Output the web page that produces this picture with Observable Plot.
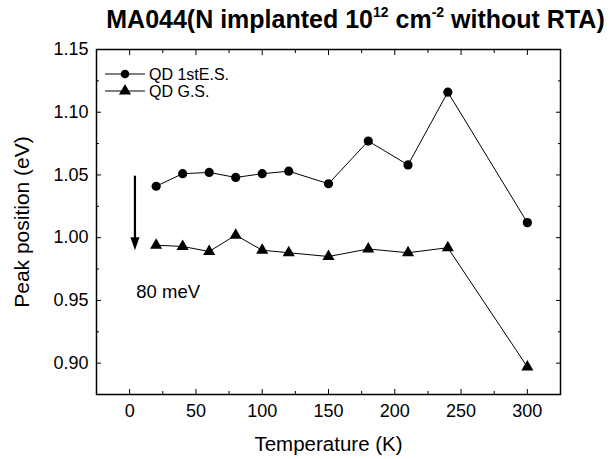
<!DOCTYPE html>
<html>
<head>
<meta charset="utf-8">
<script src="https://cdn.jsdelivr.net/npm/d3@7"></script>
<script src="https://cdn.jsdelivr.net/npm/@observablehq/plot@0.6"></script>
<style>
  body { margin: 0; background: #fff; }
  #wrap { position: relative; width: 614px; height: 459px; font-family: "Liberation Sans", Arial, sans-serif; }
  #title { position: absolute; left: 0; width: 711px; top: 4px; line-height: 30px; text-align: center; font-weight: bold; font-size: 25px; white-space: nowrap; letter-spacing: 0px; }
  #title sup { font-size: 14px; vertical-align: 0; position: relative; top: -11px; }
  #legend { position: absolute; left: 0; top: 0; }
</style>
</head>
<body>
<div id="wrap">
  <div id="title">MA044(N implanted 10<sup>12</sup> cm<sup>-2</sup> without RTA)</div>
  <div id="chart"></div>
</div>
<script>
const temperature = [20, 40, 60, 80, 100, 120, 150, 180, 210, 240, 300];
const excited = [1.041, 1.051, 1.052, 1.048, 1.051, 1.053, 1.043, 1.077, 1.058, 1.116, 1.012];
const ground  = [0.994, 0.993, 0.989, 1.002, 0.990, 0.988, 0.985, 0.991, 0.988, 0.992, 0.897];
const seriesNames = ["QD 1stE.S.", "QD G.S."];
const xTicks = [0, 50, 100, 150, 200, 250, 300];
const xMinor = [-25, 25, 75, 125, 175, 225, 275, 325];
const yTicks = [0.90, 0.95, 1.00, 1.05, 1.10, 1.15];
const yMinor = [0.875, 0.925, 0.975, 1.025, 1.075, 1.125];
const arrowT = [4];
const arrowFrom = [1.049];
const arrowTo = [0.990];
const annotation = ["80 meV"];
const annotationT = [5];
const annotationY = [0.957];

const es = temperature.map((t, i) => ({t, v: excited[i]}));
const gs = temperature.map((t, i) => ({t, v: ground[i]}));
const arrow = arrowT.map((t, i) => ({t, y1: arrowFrom[i], y2: arrowTo[i]}));

const headDown = { draw(ctx) { ctx.moveTo(0, 0); ctx.lineTo(-4.5, -13); ctx.lineTo(4.5, -13); ctx.closePath(); } };

const chart = Plot.plot({
  width: 614, height: 459,
  marginLeft: 96, marginRight: 54, marginTop: 49, marginBottom: 65,
  style: { fontFamily: "'Liberation Sans', Arial, sans-serif", fontSize: "18px", color: "#000", background: "#fff" },
  x: { domain: [-25, 325] },
  y: { domain: [0.875, 1.15] },
  marks: [
    Plot.axisX({ ticks: xTicks, tickSize: -5, tickPadding: 15, tickFormat: d3.format("d"), label: null, fontSize: 18 }),
    Plot.axisX({ ticks: xMinor, tickSize: -3, tickFormat: () => "", label: null }),
    Plot.axisX({ anchor: "top", ticks: xTicks, tickSize: -5, tickFormat: () => "", label: null }),
    Plot.axisX({ anchor: "top", ticks: xMinor, tickSize: -3, tickFormat: () => "", label: null }),
    Plot.axisY({ ticks: yTicks, tickSize: -5, tickPadding: 13, tickFormat: d3.format(".2f"), label: null, fontSize: 18 }),
    Plot.axisY({ ticks: yMinor, tickSize: -3, tickFormat: () => "", label: null }),
    Plot.axisY({ anchor: "right", ticks: yTicks, tickSize: -5, tickFormat: () => "", label: null }),
    Plot.axisY({ anchor: "right", ticks: yMinor, tickSize: -3, tickFormat: () => "", label: null }),
    Plot.frame({ stroke: "#000", strokeWidth: 1.5 }),
    Plot.line(es, { x: "t", y: "v", stroke: "#000", strokeWidth: 1 }),
    Plot.line(gs, { x: "t", y: "v", stroke: "#000", strokeWidth: 1 }),
    Plot.dot(es, { x: "t", y: "v", r: 4.6, fill: "#000", symbol: "circle" }),
    Plot.dot(gs, { x: "t", y: "v", r: 4.5, fill: "#000", symbol: "triangle" }),
    Plot.ruleX(arrow, { x: "t", y1: "y1", y2: d => d.y2 + 0.006, stroke: "#000", strokeWidth: 2.2 }),
    Plot.dot(arrow, { x: "t", y: "y2", r: 5, fill: "#000", stroke: null, symbol: headDown }),
    Plot.text(annotation, { x: annotationT, y: annotationY, text: d => d, textAnchor: "start", fontSize: 18.5, fill: "#000" }),
    Plot.text(["Temperature (K)"], { frameAnchor: "bottom", lineAnchor: "middle", textAnchor: "middle", dy: 50, fontSize: 20.5, fill: "#000" }),
    Plot.text(["Peak position (eV)"], { frameAnchor: "left", textAnchor: "middle", lineAnchor: "middle", dx: -74, rotate: -90, fontSize: 21, fill: "#000" })
  ]
});
document.getElementById("chart").appendChild(chart);

// legend overlay
const leg = d3.select("#wrap").append("svg").attr("id", "legend").attr("width", 614).attr("height", 459);
const rows = [{name: seriesNames[0], sym: d3.symbolCircle, size: Math.PI * 4.3 * 4.3, dy: 74}, {name: seriesNames[1], sym: d3.symbolTriangle, size: Math.PI * 4.5 * 4.5, dy: 91}];
rows.forEach(r => {
  const g = leg.append("g").attr("transform", `translate(0,${r.dy})`);
  g.append("line").attr("x1", 105).attr("x2", 145).attr("y1", 0).attr("y2", 0).attr("stroke", "#000").attr("stroke-width", 1);
  g.append("path").attr("d", d3.symbol(r.sym, r.size)()).attr("transform", "translate(125,0)").attr("fill", "#000");
  g.append("text").attr("x", 149).attr("y", 0).attr("dy", "0.35em").attr("font-size", 16).attr("font-family", "'Liberation Sans', Arial, sans-serif").text(r.name);
});
</script>
</body>
</html>
